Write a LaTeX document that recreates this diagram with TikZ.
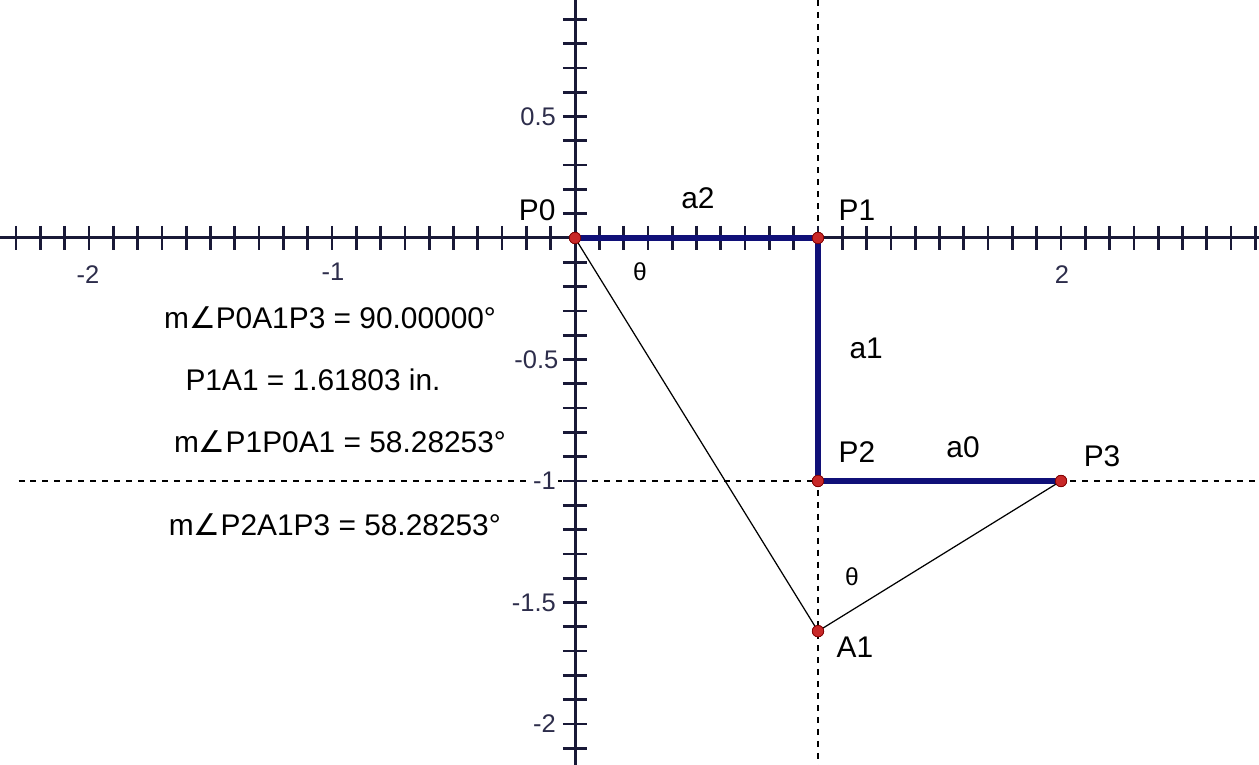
\documentclass[tikz,border=0pt]{standalone}
\usepackage{fontspec}
\setmainfont{Liberation Sans}
\newfontfamily\symfont{DejaVu Sans}
\usepackage{tikz}
\usetikzlibrary{positioning}

\newcommand{\ang}{{\symfont\char"2220}}

\definecolor{navyseg}{RGB}{16,16,120}
\definecolor{axisdark}{RGB}{25,25,55}
\definecolor{dotred}{RGB}{200,40,40}
\definecolor{numgray}{RGB}{45,45,75}

\begin{document}
\begin{tikzpicture}[
  x=4.86cm, y=4.86cm,
  font=\fontsize{17}{20}\selectfont,
  axis/.style={axisdark, line width=1.7pt},
  tick/.style={axisdark, line width=1.5pt},
  guide/.style={black, line width=0.8pt, dash pattern=on 3.4pt off 3.4pt},
  seg/.style={navyseg, line width=3.4pt},
  thin/.style={black, line width=0.7pt},
  pt/.style={circle, fill=dotred, draw=red!50!black, line width=0.4pt, minimum size=6.5pt, inner sep=0pt},
  num/.style={numgray, font=\fontsize{14.5}{16}\selectfont, fill=white, inner sep=1pt},
  lbl/.style={black},
  meas/.style={black},
  th/.style={black, font=\fontsize{14}{15}\selectfont}
]
\useasboundingbox (-2.3663,-2.1687) rectangle (2.8148,0.9794);

% --- dashed guides ---
\draw[guide] (1,0.9794) -- (1,-2.1687);
\draw[guide] (-2.29,-1) -- (2.8148,-1);

% --- axes and ticks ---
\draw[axis] (-2.3663,0) -- (2.8148,0);
\draw[axis] (0,0.9794) -- (0,-2.1687);
\foreach \i in {-23,...,28}
  \draw[tick] (\i/10,0.05) -- (\i/10,-0.05);
\foreach \j in {-21,...,9}
  \draw[tick] (-0.05,\j/10) -- (0.05,\j/10);

% axis numbers
\node[num] (xm2) at (-2.004,-0.152) {-2};
\node[num] (xm1) at (-0.996,-0.140) {-1};
\node[num] (xp2) at (2.004,-0.152) {2};
\node[num, anchor=east] (y05)  at (-0.07,0.5)  {0.5};
\node[num, anchor=east] (ym05) at (-0.06,-0.5) {-0.5};
\node[num, anchor=east] (ym1)  at (-0.07,-1)   {-1};
\node[num, anchor=east] (ym15) at (-0.07,-1.5) {-1.5};
\node[num, anchor=east] (ym2)  at (-0.07,-2)   {-2};

% --- construction ---
\node[pt] (P0) at (0,0) {};
\node[pt] (P1) at (1,0) {};
\node[pt] (P2) at (1,-1) {};
\node[pt] (P3) at (2,-1) {};
\node[pt] (A1) at (1,-1.61803) {};

\draw[thin] (P0.center) -- (A1.center);
\draw[thin] (A1.center) -- (P3.center);
\draw[seg] (P0.center) -- (P1.center);
\draw[seg] (P1.center) -- (P2.center);
\draw[seg] (P2.center) -- (P3.center);
% dots on top
\foreach \p in {P0,P1,P2,P3,A1}
  \node[pt] at (\p) {};

% point and segment labels
\node[lbl] (lP0) at (-0.156,0.115) {P0};
\node[lbl] (lP1) at (1.160,0.115) {P1};
\node[lbl] (lP2) at (1.160,-0.881) {P2};
\node[lbl] (lP3) at (2.169,-0.897) {P3};
\node[lbl] (lA1) at (1.152,-1.683) {A1};
\node[lbl] (la2) at (0.506,0.165) {a2};
\node[lbl] (la1) at (1.198,-0.453) {a1};
\node[lbl] (la0) at (1.597,-0.860) {a0};
\node[th] (th1) at (0.267,-0.140) {θ};
\node[th] (th2) at (1.140,-1.395) {θ};

% --- measurements ---
\node[meas] (m1) at (-1.008,-0.329) {m\ang P0A1P3 = 90.00000°};
\node[meas] (m2) at (-1.078,-0.584) {P1A1 = 1.61803 in.};
\node[meas] (m3) at (-0.967,-0.840) {m\ang P1P0A1 = 58.28253°};
\node[meas] (m4) at (-0.988,-1.181) {m\ang P2A1P3 = 58.28253°};
\end{tikzpicture}
\end{document}
